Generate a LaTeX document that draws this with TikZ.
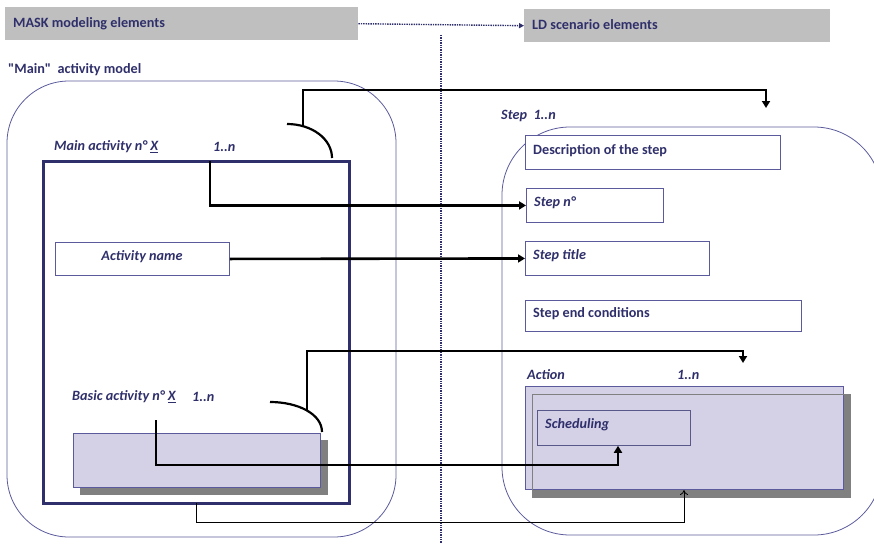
\documentclass[tikz,border=0pt]{standalone}
\usepackage{fontspec}
\setmainfont{Carlito}[Ligatures=TeXOff]
\usetikzlibrary{arrows.meta}

\definecolor{navy}{HTML}{2F2F6B}
\definecolor{frame}{HTML}{5A5A9C}
\definecolor{lav}{HTML}{D4D1E7}
\definecolor{hdr}{HTML}{BFBFBF}
\definecolor{shadowgray}{HTML}{808080}

\tikzset{
  lbl/.style={font=\bfseries\fontsize{14.2}{16}\selectfont, text=navy, anchor=west, inner sep=0pt, yshift=-1.5pt},
  ilbl/.style={font=\bfseries\itshape\fontsize{14.2}{16}\selectfont, text=navy, anchor=west, inner sep=0pt, yshift=-1.5pt},
  header/.style={fill=hdr, draw=none, anchor=north west, inner sep=0pt},
  field/.style={draw=frame, line width=0.9pt, fill=white, anchor=north west, inner sep=0pt},
  group/.style={draw=frame, line width=0.8pt, rounded corners=62pt},
  conn/.style={draw=black, line width=2.6pt, line join=miter, -{Triangle[length=7pt,width=8pt]}},
  thinconn/.style={draw=black, line width=0.8pt, -{To[length=5pt,width=8pt]}},
  dotline/.style={draw=navy, line width=1.4pt, densely dotted},
  link/.style={draw=black, line width=2.2pt}
}

\begin{document}
\begin{tikzpicture}[x=1pt, y=-1pt]
\useasboundingbox (0,0) rectangle (874,543);

% headers
\node[header, minimum width=353pt, minimum height=33pt] (hmask) at (5,7) {};
\node[lbl] (tmask) at (13,22) {MASK modeling elements};
\node[header, minimum width=306pt, minimum height=33pt] (hld) at (524,9) {};
\node[lbl] (tld) at (532,23) {LD scenario elements};
\draw[dotline, -{Triangle[length=5pt,width=5pt]}] (hmask.east) -- (hld.west);
\coordinate (divtop) at (441,35);
\coordinate (divbot) at (441,543);
\draw[dotline] (divtop) -- (divbot);

% left side: main activity model
\node[lbl] (tmain) at (8,68) {"Main"\ \ activity model};
\draw[group] (7,81) rectangle (396,537);
\node[draw=navy, line width=2.6pt, anchor=north west, minimum width=306pt, minimum height=342pt, inner sep=0pt] (mainact) at (42,160) {};
\node[ilbl] (tmainact) at (54,145) {Main activity n° \underline{X}};
\node[ilbl] (tmainn) at (213,145) {1..n};

\node[field, minimum width=174pt, minimum height=33pt] (actname) at (55,242) {};
\node[ilbl, anchor=center] (tactname) at (142,255) {Activity name};

\node[ilbl] (tbasic) at (72,395) {Basic activity n° \underline{X}};
\node[ilbl] (tbasicn) at (192,395) {1..n};
\node[fill=shadowgray, anchor=north west, minimum width=248pt, minimum height=55pt, inner sep=0pt] (basicsh) at (80,440) {};
\node[fill=lav, draw=frame, line width=0.8pt, anchor=north west, minimum width=247pt, minimum height=54pt, inner sep=0pt] (basic) at (73,433) {};

% right side: step
\node[ilbl] (tstep) at (501,114) {Step\ \ 1..n};
\begin{scope}
\clip (0,0) rectangle (874,543);
\draw[group, rounded corners=68pt] (502,127) rectangle (882,535);
\end{scope}
\node[field, minimum width=255pt, minimum height=34pt] (desc) at (525,135) {};
\node[lbl] (tdesc) at (533,149) {Description of the step};
\node[field, minimum width=137pt, minimum height=34pt] (stepno) at (526,188) {};
\node[ilbl] (tstepno) at (534,201) {Step n°};
\node[field, minimum width=184pt, minimum height=34pt] (steptitle) at (525,241) {};
\node[ilbl] (tsteptitle) at (533,254) {Step title};
\node[field, minimum width=276pt, minimum height=31pt] (stepend) at (525,300) {};
\node[lbl] (tstepend) at (533,312) {Step end conditions};

\node[ilbl] (taction) at (527,373) {Action};
\node[ilbl] (tactionn) at (677,373) {1..n};
\node[fill=shadowgray, anchor=north west, minimum width=319pt, minimum height=104pt, inner sep=0pt] (actionsh) at (532,394) {};
\node[fill=lav, draw=frame, line width=1pt, anchor=north west, minimum width=318pt, minimum height=103pt, inner sep=0pt] (action) at (525,386) {};
\draw[shadowgray, line width=1pt] (532,498) -- (532,394) -- (851,394);
\node[draw=navy!80, line width=0.8pt, anchor=north west, minimum width=153pt, minimum height=35pt, inner sep=0pt] (sched) at (537,410) {};
\node[ilbl] (tsched) at (545,423) {Scheduling};

% aggregation arcs
\draw[link] (287,124) .. controls (312,124) and (332,139) .. (332,158);
\draw[link] (270,402) .. controls (298,402) and (322,414) .. (322,432);

% connectors
\coordinate (mainhook) at (303,126);
\coordinate (mainend) at (766,108);
\draw[conn] (mainhook) |- (766,90) -- (mainend);

\coordinate (mainsrc) at (210,161);
\draw[conn] (mainsrc) |- (stepno.west);

\draw[conn] (actname.east) -- (steptitle.west);

\coordinate (basichook) at (307,410);
\coordinate (basicend) at (743,363);
\draw[conn] (basichook) |- (743,351) -- (basicend);

\coordinate (basicsrc) at (156,420);
\draw[conn] (basicsrc) |- (618,465) -- (sched.south -| 618,0);

\coordinate (mainbot) at (196,503);
\draw[thinconn] (mainbot) |- (684,522) -- (action.south -| 684,0);
\end{tikzpicture}
\end{document}
